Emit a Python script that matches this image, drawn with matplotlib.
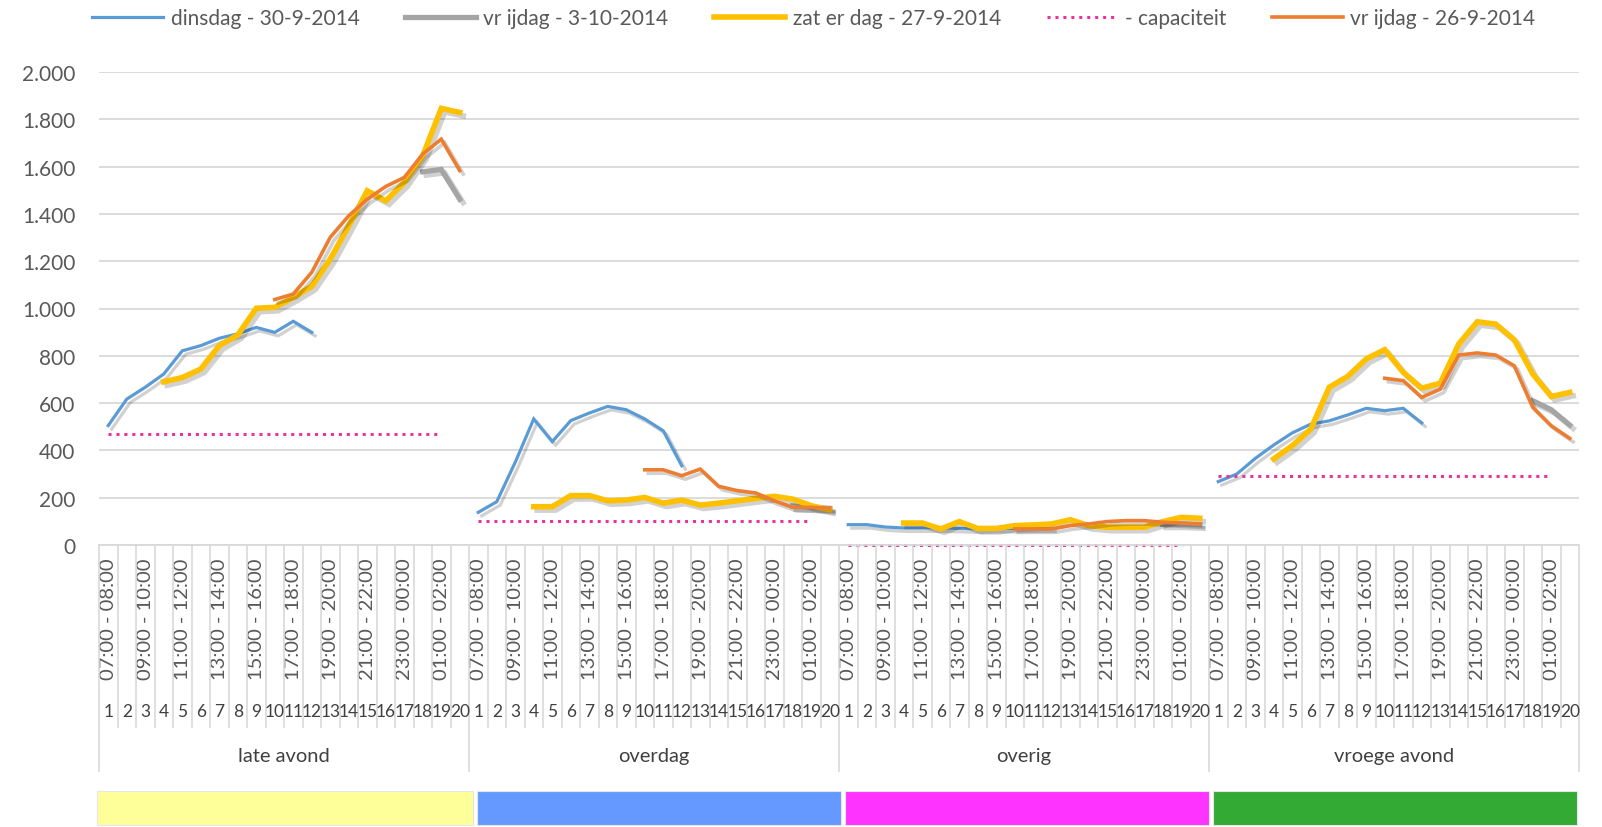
import numpy as np
import matplotlib
matplotlib.use("Agg")
import matplotlib.pyplot as plt
import matplotlib.patheffects as pe
from matplotlib.ticker import FuncFormatter
from matplotlib.patches import Rectangle

plt.rcParams['font.family'] = ['Lato', 'DejaVu Sans']

# ---------------- data ----------------
groups = ["late avond", "overdag", "overig", "vroege avond"]
n_per_group = 20
time_labels = ["07:00 - 08:00", "09:00 - 10:00", "11:00 - 12:00", "13:00 - 14:00",
               "15:00 - 16:00", "17:00 - 18:00", "19:00 - 20:00", "21:00 - 22:00",
               "23:00 - 00:00", "01:00 - 02:00"]
N = None
dinsdag = [
    [505, 617, 667, 723, 821, 843, 874, 893, 920, 899, 946, 899] + [N] * 8,
    [138, 183, 350, 533, 437, 526, 558, 586, 572, 533, 483, 335] + [N] * 8,
    [86, 86, 76, 72, 72, 72, 70, 68, 70, 70, 72, 72] + [N] * 8,
    [268, 300, 366, 423, 474, 511, 525, 550, 578, 568, 578, 516] + [N] * 8,
]
vrijdag_3_10 = [
    [N] * 17 + [1578, 1588, 1462],
    [N] * 17 + [165, 160, 155],
    [N] * 17 + [88, 88, 85],
    [N] * 17 + [610, 572, 507],
]
zaterdag = [
    [N] * 3 + [690, 708, 744, 843, 888, 1001, 1005, 1047, 1094, 1209, 1350, 1498, 1455, 1533, 1646, 1846, 1829],
    [N] * 3 + [162, 162, 209, 209, 187, 190, 201, 177, 190, 169, 177, 187, 197, 206, 194, 166, 149],
    [N] * 3 + [93, 93, 68, 99, 70, 70, 82, 85, 89, 107, 82, 75, 75, 75, 99, 117, 113],
    [N] * 3 + [364, 420, 490, 667, 713, 787, 826, 730, 663, 684, 850, 944, 934, 868, 723, 628, 645],
]
capaciteit = [
    [469] * 19 + [N],
    [100] * 19 + [N],
    [0] * 19 + [N],
    [290] * 19 + [N],
]
vrijdag_26_9 = [
    [N] * 9 + [1038, 1061, 1153, 1301, 1392, 1462, 1516, 1554, 1653, 1716, 1583],
    [N] * 9 + [318, 318, 293, 321, 248, 230, 220, 187, 159, 159, 156],
    [N] * 9 + [68, 68, 68, 82, 89, 99, 103, 103, 96, 93, 89],
    [N] * 9 + [705, 695, 624, 659, 803, 812, 803, 758, 582, 504, 451],
]
group_colors = ["#FFFF99", "#6699FF", "#FF33FF", "#33AA33"]

# ---------------- figure ----------------
W, H = 1602, 828
fig = plt.figure(figsize=(W / 100, H / 100), dpi=100)
ax = fig.add_axes([99 / W, 1 - 546 / H, (1579 - 99) / W, 473 / H])

shadow = [pe.SimpleLineShadow(offset=(2.5, -2.5), shadow_color='black', alpha=0.18),
          pe.Normal()]

series = [
    ("dinsdag - 30-9-2014", dinsdag, dict(color="#5B9BD5", lw=2.3)),
    ("vr ijdag - 3-10-2014", vrijdag_3_10, dict(color="#A5A5A5", lw=3.8)),
    ("zat er dag - 27-9-2014", zaterdag, dict(color="#FFC000", lw=4.0)),
    ("- capaciteit", capaciteit, dict(color="#E8359E", lw=2.2, linestyle=(0, (1, 1.6)))),
    ("vr ijdag - 26-9-2014", vrijdag_26_9, dict(color="#ED7D31", lw=2.6)),
]

handles = []
for name, data, style in series:
    line = None
    for g, vals in enumerate(data):
        x = np.arange(n_per_group) + g * n_per_group
        y = np.array([np.nan if v is None else v for v in vals], dtype=float)
        is_cap = name == "- capaciteit"
        l, = ax.plot(x, y, solid_joinstyle='miter', clip_on=False,
                     path_effects=None if is_cap else shadow, **style)
        line = l
    handles.append(line)

ax.set_xlim(-0.5, 4 * n_per_group - 0.5)
ax.set_ylim(0, 2000)
ax.set_yticks(np.arange(0, 2001, 200))
ax.yaxis.set_major_formatter(FuncFormatter(lambda v, p: f"{int(v):,}".replace(",", ".")))
ax.grid(axis='y', color='#D9D9D9', lw=1.3)
ax.set_axisbelow(True)
for s in ['top', 'right', 'left']:
    ax.spines[s].set_visible(False)
ax.spines['bottom'].set_color('#D9D9D9')
ax.spines['bottom'].set_linewidth(1.3)
ax.tick_params(axis='y', length=0, pad=17, labelsize=15, labelcolor='#595959')

# x tick labels: rotated time labels at every other category
xt = []
xl = []
for g in range(4):
    for k, lab in enumerate(time_labels):
        xt.append(g * n_per_group + 2 * k)
        xl.append(lab)
ax.set_xticks(xt)
ax.set_xticklabels(xl, rotation=90, fontsize=14.5, color='#595959', va='top')
ax.tick_params(axis='x', length=0, pad=9)

tr = ax.get_xaxis_transform()
# numbers row
for g in range(4):
    for i in range(n_per_group):
        ax.text(g * n_per_group + i, -0.351, str(i + 1), transform=tr, ha='center', va='center',
                fontsize=12.5, color='#404040')
    ax.text(g * n_per_group + (n_per_group - 1) / 2, -0.446, groups[g], transform=tr,
            ha='center', va='center', fontsize=14.5, color='#404040')

# separators
for k in range(4 * n_per_group + 1):
    xs = k - 0.5
    y_end = -0.478 if k % n_per_group == 0 else -0.385
    ax.plot([xs, xs], [0, y_end], transform=tr, color='#D9D9D9', lw=1.2, clip_on=False)

# coloured group bars below the axis
bar_spans = [(-0.6, 19.7), (19.95, 39.6), (39.8, 59.5), (59.7, 79.4)]
for (x0, x1), c in zip(bar_spans, group_colors):
    ax.add_patch(Rectangle((x0, -0.592), x1 - x0, 0.072, transform=tr, facecolor=c,
                           edgecolor='#E6E6E6', lw=0.8, clip_on=False))

leg = fig.legend(handles, [s[0] for s in series], loc='center', bbox_to_anchor=(0.508, 0.977),
                 ncol=5, frameon=False, fontsize=15, handlelength=3.4, handletextpad=0.35,
                 columnspacing=2.2, labelcolor='#595959')
for h in leg.legend_handles:
    h.set_path_effects([])

fig.savefig("out.png", dpi=100, facecolor='white')
